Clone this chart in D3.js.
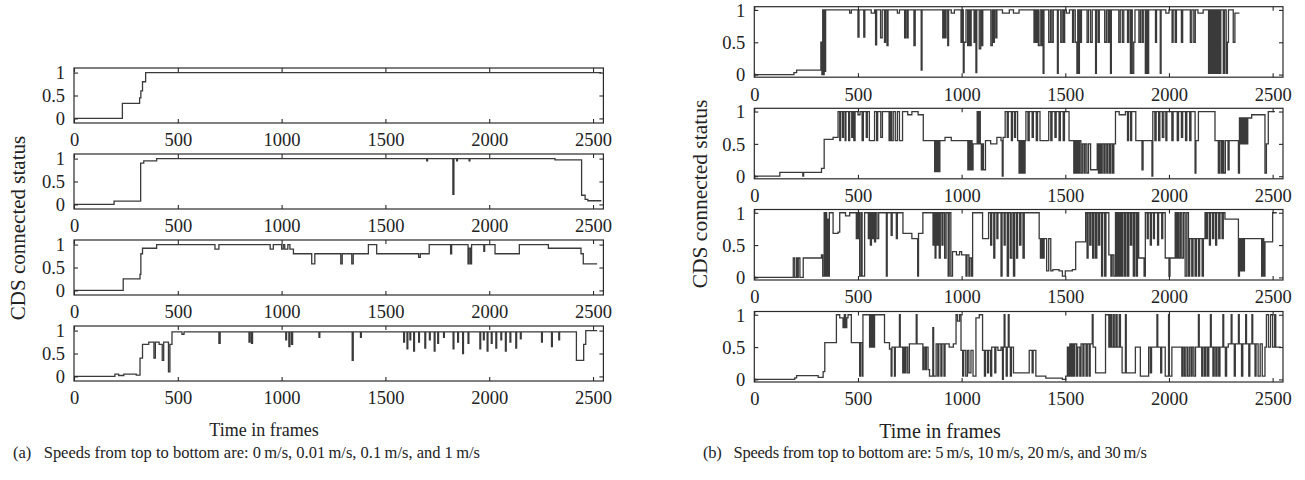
<!DOCTYPE html>
<html><head><meta charset="utf-8">
<script src="https://cdn.jsdelivr.net/npm/d3@7"></script>
<style>
html,body{margin:0;padding:0;background:#fff;}
text{font-family:"Liberation Serif","DejaVu Serif",serif;fill:#222;}
</style></head>
<body>
<svg id="chart" width="1305" height="480"></svg>
<script>
// ---------- data ----------
const frameTicks = [0, 500, 1000, 1500, 2000, 2500];
const statusTicks = [0, 0.5, 1];
const statusTickLabels = ["0", "0.5", "1"];
const speedsA = ["0 m/s", "0.01 m/s", "0.1 m/s", "1 m/s"];
const speedsB = ["5 m/s", "10 m/s", "20 m/s", "30 m/s"];
const yLabel = "CDS connected status";
const xLabel = "Time in frames";
const captionA = "(a)\u2002 Speeds from top to bottom are: 0\u2009m/s, 0.01\u2009m/s, 0.1\u2009m/s, and 1\u2009m/s";
const captionB = "(b)\u2002 Speeds from top to bottom are: 5\u2009m/s, 10\u2009m/s, 20\u2009m/s, and 30\u2009m/s";

// [frame, status] step points
const speed0 = [[0,0],[233,0.33],[310,0.33],[316,0.45],[322,0.6],[330,0.8],[345,1],[2540,1]];
const speed001 = [[0,0],[193,0.07],[321,0.9],[336,0.95],[398,1],[1699,0.95],[1703,1],[1825,0.22],[1830,1],[1843,0.95],[1847,1],[1903,0.95],[1907,1],[2317,0.97],[2445,0.2],[2462,0.11],[2475,0.08],[2540,0.08]];
const speed01 = [[0,0],[237,0.25],[318,0.35],[322,0.8],[330,0.92],[398,1],[679,0.9],[698,1],[945,0.9],[960,1],[1000,0.9],[1008,1],[1015,0.9],[1030,1],[1040,0.9],[1057,0.8],[1145,0.58],[1160,0.8],[1285,0.58],[1292,0.8],[1338,0.58],[1345,0.8],[1418,1],[1458,0.8],[1660,0.72],[1668,0.8],[1711,1],[1814,0.8],[1819,1],[1898,0.58],[1903,0.92],[1910,0.58],[1915,1],[1974,0.85],[1978,1],[2028,0.8],[2145,1],[2285,0.92],[2442,0.8],[2453,0.58],[2520,0.58]];
const speed1 = [[0,0],[197,0.05],[215,0.02],[240,0.05],[300,0.03],[318,0.4],[330,0.7],[360,0.75],[385,0.4],[392,0.75],[410,0.7],[425,0.35],[432,0.75],[455,0.1],[462,0.7],[472,0.97],[520,0.92],[530,0.97],[698,0.72],[704,0.97],[843,0.75],[848,0.97],[855,0.72],[860,0.97],[1020,0.8],[1024,0.97],[1035,0.65],[1040,0.97],[1048,0.7],[1053,0.97],[1180,0.85],[1184,0.97],[1340,0.35],[1345,0.97],[1380,0.85],[1384,0.97],
[1588,0.75],[1592,0.97],[1604,0.6],[1608,0.97],[1618,0.8],[1622,0.97],[1636,0.55],[1640,0.97],[1660,0.75],[1664,0.97],[1690,0.62],[1694,0.97],[1712,0.8],[1716,0.97],[1735,0.55],[1739,0.97],[1752,0.72],[1756,0.97],[1780,0.85],[1784,0.97],
[1826,0.6],[1830,0.97],[1848,0.75],[1852,0.97],[1872,0.5],[1876,0.97],[1898,0.72],[1902,0.97],
[1955,0.6],[1959,0.97],[1972,0.8],[1976,0.97],[1990,0.55],[1994,0.97],[2010,0.72],[2014,0.97],[2032,0.62],[2036,0.97],[2056,0.8],[2060,0.97],[2078,0.55],[2082,0.97],[2100,0.75],[2104,0.97],[2128,0.62],[2132,0.97],[2150,0.82],[2154,0.97],
[2252,0.75],[2256,0.97],[2300,0.65],[2304,0.97],[2335,0.8],[2339,0.97],[2420,0.35],[2455,0.7],[2465,1],[2520,1]];

const speed5 = [[0,0],[191,0.03],[204,0.07],[321,0.5],[326,0],[330,1],[333,0],[337,1],[340,0.05],[344,1],
[460,0.95],[468,1],[500,0.58],[505,1],[528,0.58],[533,1],[564,0.95],[580,1],[585,0.46],[590,1],[609,0.57],[617,1],[628,0.5],[633,1],[640,0.45],[645,1],[690,0.95],[700,1],[725,0.57],[730,1],[737,0.57],[742,1],[770,0.45],[776,1],[805,0.07],[809,1],[909,0.57],[914,1],[920,0.57],[925,1],[933,0.45],[937,1],[950,0.95],[965,1],[997,0.5],[1003,1],[1008,0.03],[1012,0.5],[1021,1],[1029,0.45],[1035,1],[1040,0.45],[1046,1],[1060,0.5],[1066,1],[1069,0.03],[1073,1],[1085,0.4],[1092,1],[1097,0.45],[1102,1],[1141,0.45],[1148,1],[1152,0.5],[1158,1],[1165,0.57],[1170,1],[1197,0.95],[1230,1],[1250,0.95],[1277,1],
[1349,0.5],[1355,1],[1360,0.5],[1366,1],[1370,0.45],[1378,1],[1385,0.45],[1390,1],[1393,0.02],[1397,1],
[1420,0.5],[1428,1],[1435,0.5],[1442,1],[1462,0.02],[1466,1],[1478,0.5],[1485,1],[1492,0.5],[1497,1],[1505,0.95],[1520,1],
[1535,0.5],[1540,1],[1548,0.5],[1556,0.02],[1560,1],[1564,0.02],[1568,1],[1572,0.5],[1578,1],
[1605,0.5],[1612,1],[1622,0.5],[1630,1],[1646,0.02],[1650,1],[1658,0.5],[1664,1],
[1690,0.5],[1698,1],[1706,0.5],[1712,1],[1718,0.02],[1722,1],[1758,0.5],[1765,1],[1775,0.5],[1782,1],
[1800,0.5],[1806,1],[1814,0.02],[1818,1],[1823,0.02],[1830,0.5],[1836,1],
[1855,0.5],[1862,1],[1870,0.5],[1876,1],[1886,0.02],[1890,1],[1896,0.02],[1902,1],
[1935,0.5],[1940,1],[1958,0.02],[1962,1],[1985,0.95],[2000,1],[2015,0.5],[2020,1],[2030,0.5],[2036,1],[2060,0.5],[2066,1],
[2103,0.5],[2110,1],[2120,0.5],[2127,1],[2140,0.95],[2165,1],
[2191,0.02],[2196,1],[2200,0.02],[2206,1],[2210,0.02],[2216,1],[2220,0.02],[2226,1],[2232,0.02],[2238,1],[2244,0.02],[2250,1],[2262,0.02],[2268,1],[2276,0.02],[2282,0.5],[2287,1],
[2310,0.5],[2318,0.95],[2340,0.95]];

const speed10 = [[0,0],[123,0.06],[234,0],[238,0.06],[324,0.12],[337,0.57],[380,0.6],[404,1],
[412,0.55],[416,1],[425,0.6],[430,1],[438,0.55],[442,1],[455,0.55],[460,1],[470,0.6],[476,1],[480,0.55],[486,1],[500,0.95],[510,1],[520,0.55],[526,1],[540,0.6],[545,1],
[555,0.55],[580,1],[590,0.55],[595,1],[610,0.6],[618,1],[650,0.55],[656,1],[662,0.55],[670,1],[680,0.55],[690,1],[700,0.55],[715,1],[740,0.95],[760,1],[790,0.95],
[815,0.55],[870,0.07],[874,0.55],[880,0.07],[884,0.55],[890,0.07],[895,0.55],[920,0.6],[950,0.55],[1030,0.1],[1034,0.55],[1040,0.1],[1045,0.55],[1050,0.1],[1055,0.5],[1075,1],[1080,0.5],[1085,1],[1090,0.5],[1095,0.1],[1100,0.5],[1105,0.1],[1115,0.55],[1140,0.5],[1170,0.6],[1190,0.55],[1196,0],[1200,0.6],[1210,1],[1220,0.6],[1225,1],
[1240,0.55],[1245,1],[1255,0.6],[1260,1],[1270,0.55],[1277,0.05],[1282,0.55],[1288,0.05],[1294,0.55],[1300,0.05],[1306,0.55],[1310,1],[1320,0.55],[1326,1],[1340,0.6],[1346,1],[1360,0.55],[1366,1],[1378,0.55],[1420,1],[1430,0.55],[1436,1],[1450,0.6],[1456,1],[1470,0.55],[1476,1],[1490,0.55],[1496,1],
[1518,0.55],[1541,0.05],[1546,0.55],[1550,0.05],[1556,0.55],[1562,0.05],[1568,0.55],[1575,0.05],[1582,0.5],[1590,0.05],[1596,0.5],[1604,0.05],[1612,0.5],[1622,0.1],[1654,0.5],[1660,0.05],[1666,0.5],[1672,0.05],[1678,0.5],[1686,0.05],[1692,0.5],[1700,0.05],[1706,0.5],[1714,0.05],[1720,0.5],[1728,0.05],[1734,0.5],
[1742,1],[1760,0.95],[1790,1],[1800,0.55],[1805,1],[1815,0.55],[1820,1],[1840,0.55],[1870,0.1],[1875,0.55],[1918,0],[1922,1],[1932,0.55],[1938,1],[1950,0.55],[1956,1],[1968,0.6],[1975,1],[1985,0.55],[1990,1],
[2014,0.55],[2020,1],[2040,0.55],[2046,1],[2060,0.6],[2066,1],[2080,0.55],[2086,1],[2100,0.55],[2106,1],[2126,0.05],[2130,0.55],[2142,1],[2222,0.55],[2238,0.05],[2244,0.55],[2252,0.05],[2258,0.55],[2264,0.05],[2272,0.55],[2285,0.1],[2290,0.55],
[2335,0.05],[2340,0.9],[2345,0.5],[2350,0.9],[2355,0.5],[2360,0.9],[2365,0.5],[2370,0.9],[2375,0.5],[2380,0.9],[2399,0.95],[2463,0.05],[2470,0.5],[2479,1],[2511,1]];

const speed20 = [[0,0],[188,0.3],[195,0],[204,0.3],[208,0],[212,0.3],[220,0],[236,0.3],[324,0.35],[330,0.02],[337,1],[341,0.02],[345,1],[349,0.02],[353,0.9],[357,0.02],[362,1],[380,0.68],[404,0.7],[412,1],[440,0.95],[460,1],[492,0.6],[496,1],[500,0.6],[505,1],[508,0.02],[515,1],[520,0.02],[532,1],[550,0.6],[555,1],[560,0.5],[565,1],[570,0.6],[575,1],[580,0.55],[585,1],[592,0.6],[600,1],[637,0.02],[641,1],[660,0.65],[665,1],[685,0.6],[690,1],
[717,0.68],[760,0.6],[788,0.02],[792,0.68],[813,1],[862,0.5],[866,1],[872,0.3],[876,1],[882,0.5],[886,1],[892,0.3],[897,1],[905,0.5],[910,1],[918,0.3],[925,1],[935,0.02],[940,1],[948,0.02],[956,0.4],[975,0.35],[990,0.4],[1000,0.35],[1021,0.02],[1026,0.35],[1035,0.02],[1040,0.3],[1048,0.02],[1053,1],[1101,0.6],[1130,1],[1140,0.5],[1145,1],[1155,0.3],[1160,1],[1170,0.6],[1175,1],[1190,0.02],[1195,1],[1205,0.5],[1210,1],[1220,0.02],[1226,1],[1235,0.3],[1242,1],[1250,0.02],[1256,1],[1265,0.3],[1270,1],[1280,0.5],[1286,1],[1296,0.3],[1302,1],
[1374,0.6],[1380,0.3],[1386,0.6],[1392,0.3],[1398,0.6],[1410,0.1],[1420,0.6],[1430,0.1],[1440,0.12],[1470,0.1],[1486,0.02],[1500,0.1],[1534,0.12],[1550,0.55],[1598,1],[1605,0.3],[1610,1],[1618,0.5],[1624,1],[1632,0.3],[1638,1],[1646,0.3],[1652,1],[1660,0.5],[1666,1],[1675,0.02],[1680,1],[1690,0.02],[1696,1],[1710,0.35],[1720,0.02],[1726,0.35],[1734,0.02],[1742,1],[1748,0.02],[1754,1],[1760,0.02],[1766,1],[1772,0.02],[1778,1],[1786,0.02],[1792,1],[1800,0.02],[1806,1],[1814,0.5],[1820,1],[1828,0.02],[1834,1],[1842,0.02],[1848,1],[1854,0.3],[1880,0.02],[1886,1],[1895,0.6],[1900,1],[1910,0.5],[1915,1],[1925,0.6],[1930,1],[1945,0.5],[1950,1],[1965,0.6],[1970,1],[1982,0.3],[2000,0.02],[2005,0.3],[2030,1],[2036,0.3],[2042,1],[2048,0.3],[2055,1],[2062,0.3],[2070,1],[2078,0.02],[2086,1],[2094,0.02],[2100,0.6],[2110,0.02],[2116,0.6],[2126,0.02],[2132,0.6],[2142,0.02],[2148,0.6],[2160,0.02],[2166,0.6],[2174,1],[2180,0.6],[2186,1],[2195,0.5],[2200,1],[2210,0.6],[2216,1],[2225,0.5],[2230,1],[2240,0.6],[2246,1],[2256,0.6],[2262,1],[2270,0.9],[2335,0.02],[2340,0.6],[2346,0.1],[2352,0.6],[2358,0.1],[2364,0.6],[2447,0.02],[2452,0.6],[2457,0.02],[2463,0.55],[2500,1],[2520,1]];

const speed30 = [[0,0],[195,0.025],[204,0.06],[308,0.03],[332,0.12],[340,0.57],[396,1],[412,0.95],[428,0.8],[434,1],[440,0.8],[446,0.95],[452,1],[468,0.57],[508,0.05],[512,0.57],[520,0.05],[524,1],[556,0.5],[560,1],[565,0.5],[570,1],[575,0.5],[580,1],[628,0.57],[652,0.47],[660,0.05],[664,0.5],[676,0.05],[680,0.5],[700,1],[704,0.5],[716,0.1],[720,0.5],[726,0.1],[732,0.5],[740,0.1],[748,0.55],[781,1],[785,0.55],[813,0.15],[818,0.5],[825,0.15],[830,0.5],[838,0.15],[845,0.05],[861,0.8],[865,0.05],[877,0.55],[885,0.05],[890,0.55],[900,0.05],[905,0.55],[915,0.05],[920,0.55],[940,0.5],[960,0.55],[973,1],[980,0.9],[990,1],[997,0.45],[1005,0.05],[1010,0.45],[1020,0.05],[1028,0.45],[1035,0.1],[1045,0.45],[1055,0.05],[1069,0.95],[1085,1],[1101,0.45],[1110,0.05],[1115,0.45],[1125,0.1],[1130,0.45],[1140,0.05],[1145,0.5],[1160,0.1],[1165,0.5],[1175,0.45],[1190,0.5],[1197,0],[1201,0.5],[1205,1],[1209,0.5],[1215,0.05],[1220,0.5],[1225,1],[1229,0.5],[1235,0.05],[1240,0.5],[1250,0.1],[1326,0.45],[1340,0.1],[1345,0.45],[1358,0.05],[1406,0.02],[1486,0],[1502,0.05],[1510,0.5],[1516,0.05],[1522,0.55],[1528,0.05],[1534,0.55],[1540,0.05],[1546,0.55],[1555,0.05],[1560,0.5],[1570,0.05],[1576,0.55],[1585,0.05],[1590,0.55],[1600,0.05],[1606,0.55],[1615,0.05],[1620,0.55],[1630,1],[1634,0.5],[1646,0.1],[1694,1],[1710,0.5],[1716,1],[1722,0.5],[1730,1],[1736,0.5],[1744,1],[1750,0.5],[1760,1],[1766,0.5],[1774,0.1],[1790,1],[1794,0.1],[1838,0.5],[1862,0.05],[1902,0.5],[1910,0.1],[1916,0.5],[1942,1],[1946,0.5],[1960,0.1],[1965,0.5],[1982,0.05],[1998,1],[2002,0.05],[2014,0.5],[2062,0.05],[2068,0.5],[2075,0.05],[2082,0.5],[2090,0.05],[2098,0.5],[2106,0.05],[2112,0.5],[2120,0.05],[2128,0.5],[2142,1],[2146,0.5],[2158,0.05],[2164,0.5],[2172,0.05],[2178,0.5],[2186,0.05],[2192,0.5],[2200,1],[2204,0.5],[2212,0.05],[2218,0.5],[2226,0.05],[2232,0.5],[2240,0.05],[2246,0.5],[2260,1],[2264,0.5],[2272,0.05],[2278,0.5],[2286,0.55],[2300,1],[2304,0.55],[2315,0.05],[2320,0.55],[2335,1],[2339,0.55],[2350,0.05],[2356,0.55],[2370,1],[2374,0.55],[2385,0.05],[2390,0.55],[2400,1],[2404,0.55],[2415,0.05],[2420,0.55],[2430,0.05],[2440,0.55],[2450,0.05],[2463,0.5],[2470,1],[2480,0.5],[2490,1],[2500,0.5],[2510,1],[2515,0.5],[2540,0.5]];

const seriesA = [speed0, speed001, speed01, speed1];
const seriesB = [speed5, speed10, speed20, speed30];

// ---------- drawing ----------
const svg = d3.select("#chart");
const lineColor = "#3a3a3a";
const boxColor = "#2a2a2a";
const tickLen = 4;

function drawGroup(cfg) {
  const x = d3.scaleLinear().domain([0, 2550]).range([cfg.left, cfg.right]);
  cfg.series.forEach((data, i) => {
    const top = cfg.tops[i];
    const y = d3.scaleLinear().domain(cfg.yDomain).range([top + cfg.height, top]);
    const g = svg.append("g").attr("class", "panel").attr("data-speed", cfg.names[i]);
    const line = d3.line().x(d => x(d[0])).y(d => y(d[1])).curve(d3.curveStepAfter);
    g.append("path").datum(data).attr("d", line)
      .attr("fill", "none").attr("stroke", lineColor).attr("stroke-width", 1.3);
    g.append("rect").attr("x", cfg.left).attr("y", top)
      .attr("width", cfg.right - cfg.left).attr("height", cfg.height)
      .attr("fill", "none").attr("stroke", boxColor).attr("stroke-width", 1.2);
    const xb = d3.axisBottom(x).tickValues(frameTicks).tickSize(-tickLen).tickPadding(tickLen + 6).tickFormat(d3.format("d"));
    const gx = g.append("g").attr("transform", `translate(0,${top + cfg.height})`).call(xb);
    const xt = d3.axisTop(x).tickValues(frameTicks).tickSize(-tickLen).tickFormat("");
    const gxt = g.append("g").attr("transform", `translate(0,${top})`).call(xt);
    const yl = d3.axisLeft(y).tickValues(statusTicks).tickSize(-tickLen).tickPadding(tickLen + 5)
      .tickFormat((d, k) => statusTickLabels[k]);
    const gy = g.append("g").attr("transform", `translate(${cfg.left},0)`).call(yl);
    const yr = d3.axisRight(y).tickValues(statusTicks).tickSize(-tickLen).tickFormat("");
    const gyr = g.append("g").attr("transform", `translate(${cfg.right},0)`).call(yr);
    [gx, gxt, gy, gyr].forEach(a => {
      a.select(".domain").remove();
      a.selectAll(".tick line").attr("stroke", boxColor).attr("stroke-width", 1.1);
      a.selectAll("text").attr("font-family", "Liberation Serif, serif").attr("font-size", 18.5).attr("fill", "#222");
    });
    gx.selectAll("text").attr("dy", "0.72em");
    gy.selectAll("text").attr("dy", "0.34em");
  });
  svg.append("text").attr("x", cfg.xLabelX).attr("y", cfg.xLabelY).attr("text-anchor", "middle")
    .attr("font-size", cfg.xLabelSize).text(xLabel);
  svg.append("text").attr("transform", `translate(${cfg.yLabelX},${cfg.yLabelY}) rotate(-90)`)
    .attr("text-anchor", "middle").attr("font-size", cfg.yLabelSize).text(yLabel);
  svg.append("text").attr("x", cfg.capX).attr("y", cfg.capY).attr("font-size", 16.5)
    .attr("textLength", cfg.capLen).attr("lengthAdjust", "spacing")
    .attr("xml:space", "preserve").text(cfg.caption);
}

drawGroup({
  series: seriesA, names: speedsA, left: 74, right: 603.4, height: 55,
  tops: [68, 154, 240, 326], yDomain: [-0.1, 1.1],
  xLabelX: 264, xLabelY: 436, xLabelSize: 18,
  yLabelX: 25, yLabelY: 228, yLabelSize: 21,
  capX: 13, capY: 458, capLen: 467, caption: captionA
});
drawGroup({
  series: seriesB, names: speedsB, left: 754.3, right: 1283, height: 70.5,
  tops: [6.7, 108.3, 209.5, 311.5], yDomain: [-0.04, 1.05],
  xLabelX: 940, xLabelY: 438, xLabelSize: 20,
  yLabelX: 707, yLabelY: 194, yLabelSize: 21.5,
  capX: 703, capY: 458, capLen: 444, caption: captionB
});
</script>
</body></html>
